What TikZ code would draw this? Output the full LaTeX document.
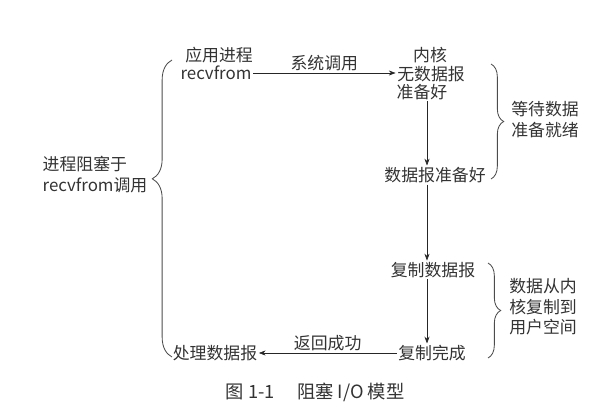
\documentclass[tikz,border=0pt]{standalone}
\usepackage{fontspec}
\setmainfont{Noto Sans CJK SC}
\usepackage{tikz}
\usetikzlibrary{arrows.meta,decorations.pathreplacing}

\begin{document}
\begin{tikzpicture}[x=0.025cm,y=-0.025cm,>=Stealth,
  every node/.style={text=black!80,font=\fontsize{12}{15}\selectfont,inner sep=1pt},
  brc/.style={decorate,decoration={brace,amplitude=#1,aspect=0.5},black!70,semithick},
  link/.style={->,black!85}]
\useasboundingbox(0,0)rectangle(600,414);
% user process
\node(app)at(219,55){应用进程};
\node(recv)at(216,73){recvfrom};
\node(handle)at(215,353){处理数据报};
\node[align=left](block)at(95,175){进程阻塞于\\recvfrom调用};
% kernel
\node(kernel)at(430,55){内核};
\node(nodata)at(431,74){无数据报};
\node(notready)at(422,92){准备好};
\node(ready)at(435,175){数据报准备好};
\node(copy)at(433,270){复制数据报};
\node(done)at(432,353){复制完成};
\coordinate(col)at(427,0);
% notes
\node[align=left](wait)at(545,120){等待数据\\准备就绪};
\node[align=left,font=\fontsize{12}{14.5}\selectfont](copytxt)at(543,307){数据从内\\核复制到\\用户空间};
\draw[link](recv.east)--node[above]{系统调用}(nodata.west|-recv.east);
\draw[link](col|-notready.south)--(col|-ready.north);
\draw[link](col|-ready.south)--(col|-copy.north);
\draw[link](col|-copy.south)--(col|-done.north);
\draw[link](done.west)--node[above]{返回成功}(handle.east);
\draw[brc=14pt,decoration={aspect=0.6}](172,357)--(172,60);
\draw[brc=9pt](491,64)--(491,179);
\draw[brc=9pt](488,263)--(488,358);
\node[font=\fontsize{13}{15}\selectfont](caption)at(315,392){图 1-1\quad\ 阻塞 I/O 模型};
\end{tikzpicture}
\end{document}
